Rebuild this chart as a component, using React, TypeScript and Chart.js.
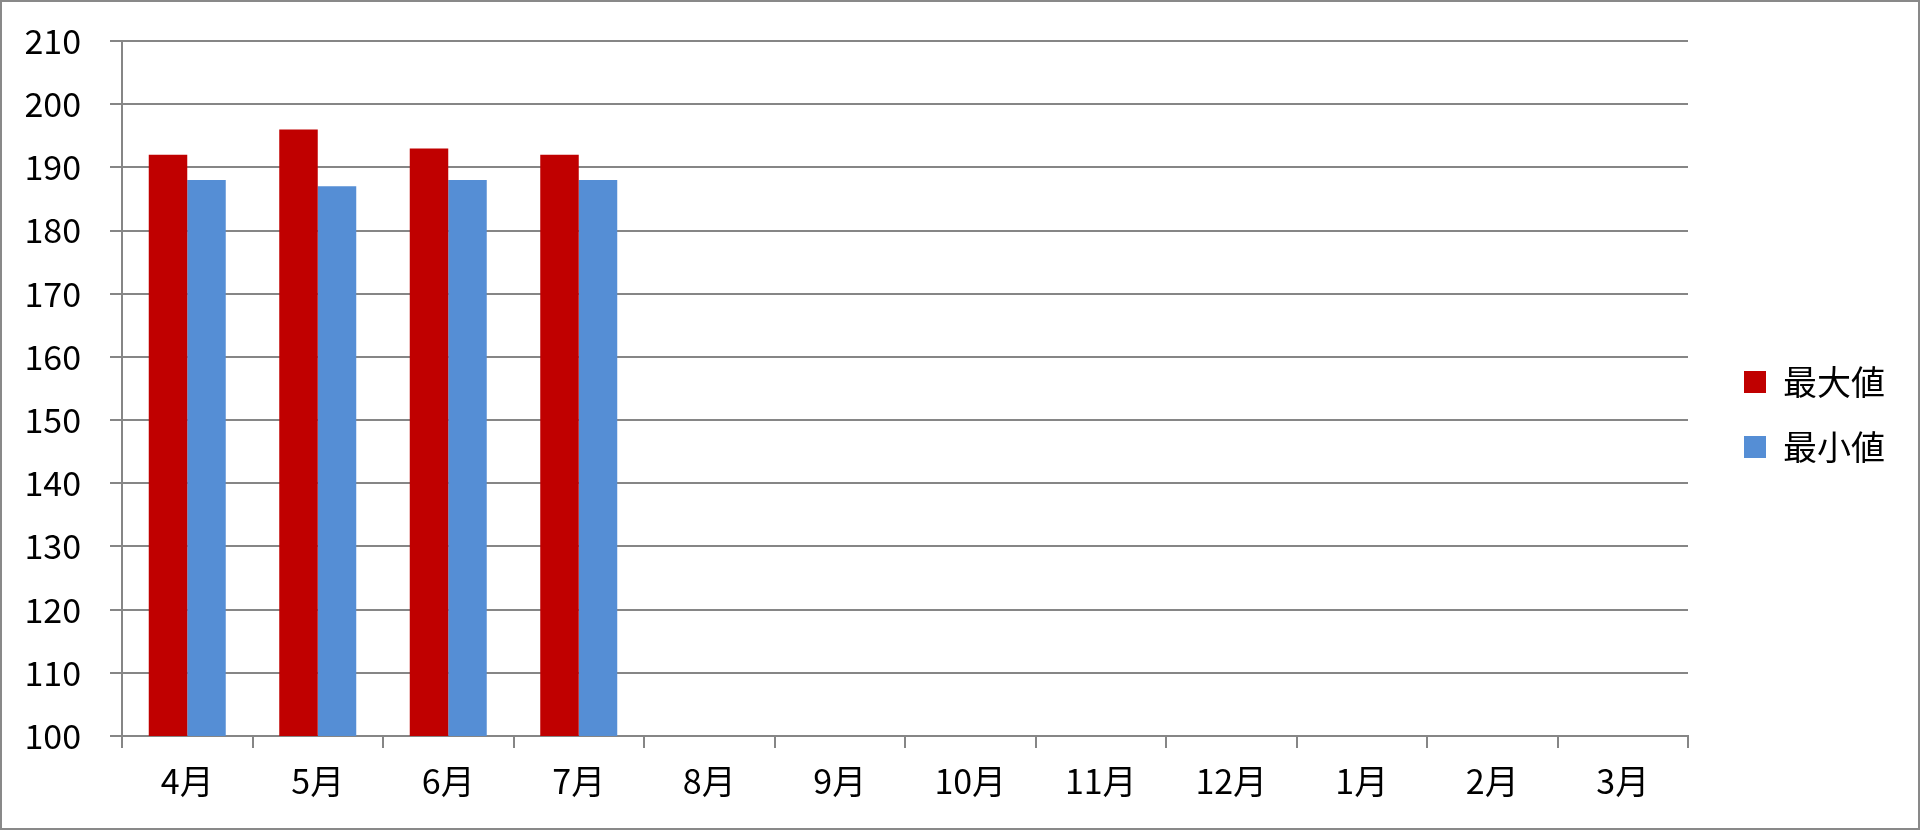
import React, { useEffect, useRef } from "react";
import { Chart, registerables } from "chart.js";

Chart.register(...registerables);

const categories = ["4月", "5月", "6月", "7月", "8月", "9月", "10月", "11月", "12月", "1月", "2月", "3月"];
const maxValues = [192, 196, 193, 192, null, null, null, null, null, null, null, null];
const minValues = [188, 187, 188, 188, null, null, null, null, null, null, null, null];
const seriesNames = ["最大値", "最小値"];
const yMin = 100;
const yMax = 210;
const yStep = 10;

const FONT = "'Noto Sans CJK JP', 'Noto Sans', sans-serif";
const GRID = "#868686";
const LEGEND_SHIFT_X = 25;
const LEGEND_SHIFT_Y = -20;

export default function App() {
  const ref = useRef<HTMLCanvasElement | null>(null);
  useEffect(() => {
    document.body.style.margin = "0";
    if (!ref.current) return;
    const chart = new Chart(ref.current, {
      type: "bar",
      data: {
        labels: categories,
        datasets: [
          { label: seriesNames[0], data: maxValues, backgroundColor: "#C00000" },
          { label: seriesNames[1], data: minValues, backgroundColor: "#558ED5" },
        ],
      },
      plugins: [
        {
          id: "legendShift",
          afterLayout(c: any) {
            if (c.legend) {
              c.legend.left += LEGEND_SHIFT_X;
              c.legend.right += LEGEND_SHIFT_X;
              c.legend.top += LEGEND_SHIFT_Y;
              c.legend.bottom += LEGEND_SHIFT_Y;
            }
          },
        },
      ],
      options: {
        animation: false,
        responsive: true,
        maintainAspectRatio: false,
        datasets: { bar: { categoryPercentage: 0.59, barPercentage: 1 } },
        layout: { padding: { top: 39, bottom: 0, left: 0, right: 48 } },
        plugins: {
          tooltip: { enabled: false },
          legend: {
            position: "right",
            labels: {
              boxWidth: 22,
              boxHeight: 22,
              padding: 31,
              color: "#000",
              font: { family: FONT, size: 34 },
            },
          },
        },
        scales: {
          x: {
            grid: { display: true, drawOnChartArea: false, drawTicks: true, tickLength: 12, color: GRID, lineWidth: 2 },
            border: { color: GRID, width: 2 },
            ticks: { color: "#000", font: { family: FONT, size: 34 }, padding: 13, maxRotation: 0 },
            afterFit(s: any) { s.height = 92; },
          },
          y: {
            min: yMin,
            max: yMax,
            ticks: { stepSize: yStep, color: "#000", font: { family: FONT, size: 34 }, padding: 29 },
            grid: { color: GRID, lineWidth: 2, tickLength: 12 },
            border: { color: GRID, width: 2 },
            afterFit(s: any) {
              s.width = 120;
              s.paddingTop = 0;
              s.paddingBottom = 0;
            },
          },
        },
      },
    } as any);
    return () => chart.destroy();
  }, []);
  return (
    <div style={{ width: 1920, height: 830, boxSizing: "border-box", border: "2px solid #898989", background: "#fff" }}>
      <div style={{ width: 1916, height: 826, position: "relative" }}>
        <canvas ref={ref} />
      </div>
    </div>
  );
}
